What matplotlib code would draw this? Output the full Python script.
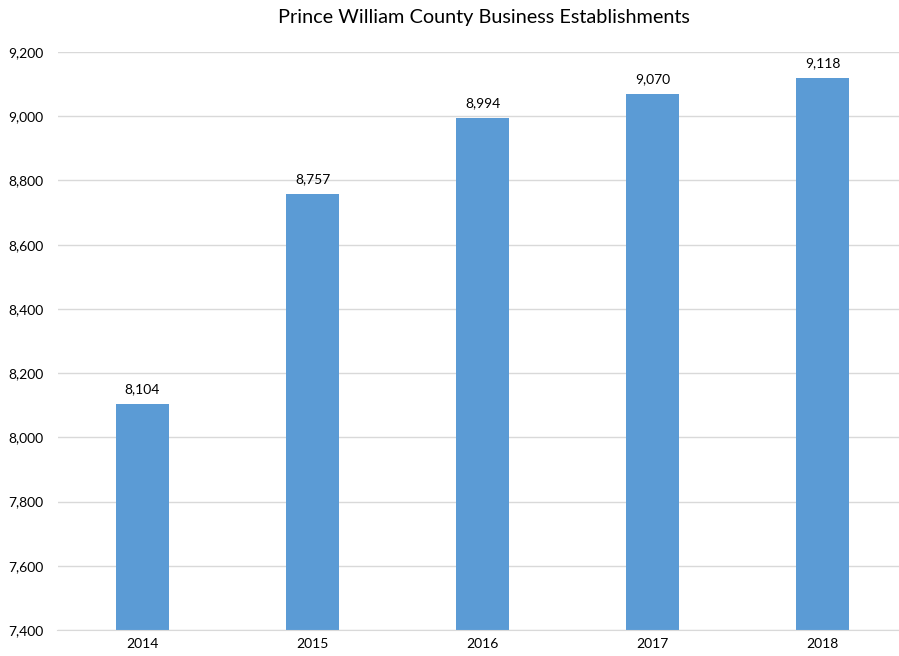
import matplotlib
matplotlib.use("Agg")
import matplotlib.pyplot as plt
from matplotlib.ticker import FuncFormatter

years = ["2014", "2015", "2016", "2017", "2018"]
values = [8104, 8757, 8994, 9070, 9118]
yticks = [7400, 7600, 7800, 8000, 8200, 8400, 8600, 8800, 9000, 9200]

plt.rcParams['font.family'] = ['Lato', 'DejaVu Sans']

W, H = 899, 656
fig = plt.figure(figsize=(W/100, H/100), dpi=100)
ax = fig.add_axes([57.5/W, 26/H, 850/W, 578/H])

x = list(range(len(years)))
bars = ax.bar(x, values, width=0.31, color="#5B9BD5", zorder=3)
for xi, v in zip(x, values):
    ax.annotate(f"{v:,}", (xi, v), xytext=(0, 6.5), textcoords="offset points",
                ha="center", va="bottom", fontsize=10, color="#000000")

ax.set_xlim(-0.5, len(years) - 0.5)
ax.set_ylim(7400, 9200)
ax.set_yticks(yticks)
ax.yaxis.set_major_formatter(FuncFormatter(lambda v, p: f"{int(v):,}"))
ax.set_xticks(x)
ax.set_xticklabels(years)
ax.tick_params(axis="both", length=0, labelsize=10, colors="#000000")
ax.tick_params(axis="y", pad=10)
ax.tick_params(axis="x", pad=6)
ax.grid(axis="y", color="#D9D9D9", linewidth=1, zorder=0)
for s in ["top", "right", "left"]:
    ax.spines[s].set_visible(False)
ax.spines["bottom"].set_color("#D9D9D9")
ax.spines["bottom"].set_zorder(4)

fig.text(484/W, 1 - 18/H, "Prince William County Business Establishments", ha="center", va="center", fontsize=14.3)

fig.savefig("out.png", dpi=100)
